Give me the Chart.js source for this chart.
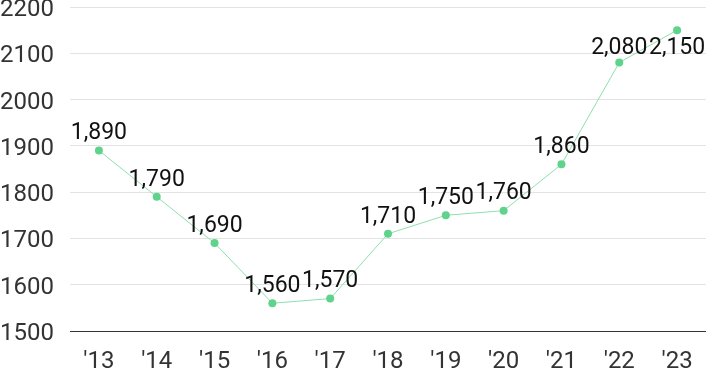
<!DOCTYPE html>
<html>
<head>
<meta charset="utf-8">
<script src="https://cdn.jsdelivr.net/npm/chart.js@4"></script>
<style>
  html, body { margin: 0; padding: 0; background: #fff; }
  #wrap { width: 710px; height: 371px; position: relative; }
</style>
</head>
<body>
<div id="wrap"><canvas id="chart"></canvas></div>
<script>
const years = ["'13", "'14", "'15", "'16", "'17", "'18", "'19", "'20", "'21", "'22", "'23"];
const values = [1890, 1790, 1690, 1560, 1570, 1710, 1750, 1760, 1860, 2080, 2150];
const yTicks = [1500, 1600, 1700, 1800, 1900, 2000, 2100, 2200];

// point value labels above each marker
const valueLabels = {
    id: 'valueLabels',
    afterDatasetsDraw(chart) {
        const ctx = chart.ctx;
        const meta = chart.getDatasetMeta(0);
        ctx.save();
        ctx.font = '23px Roboto';
        ctx.fillStyle = '#111';
        ctx.textAlign = 'center';
        ctx.textBaseline = 'middle';
        meta.data.forEach((pt, i) => {
            let y = pt.y - 17;
            if (y < chart.chartArea.top + 41) y = chart.chartArea.top + 41;
            ctx.fillText(values[i].toLocaleString('en-US'), pt.x, y);
        });
        ctx.restore();
    }
};

new Chart(document.getElementById('chart'), {
    type: 'line',
    data: {
        labels: years,
        datasets: [{
            data: values,
            borderColor: '#8fdfad',
            borderWidth: 1,
            pointBackgroundColor: '#5fd38b',
            pointBorderWidth: 0,
            pointRadius: 4,
            tension: 0
        }]
    },
    options: {
        responsive: true,
        maintainAspectRatio: false,
        animation: false,
        layout: { padding: { top: 7, right: 0, left: 0, bottom: 0 } },
        plugins: { legend: { display: false }, tooltip: { enabled: false } },
        scales: {
            x: {
                offset: true,
                grid: { display: false, drawTicks: false },
                border: { display: false },
                ticks: { color: '#333', font: { family: 'Roboto', size: 24 }, padding: 17 },
                afterFit(s) { s.height = 40; s.paddingLeft = 0; s.paddingRight = 0; }
            },
            y: {
                min: 1500,
                max: 2200,
                afterBuildTicks(s) { s.ticks = yTicks.map(v => ({ value: v })); },
                grid: {
                    drawTicks: false,
                    color: ctx => ctx.tick.value === 1500 ? '#333' : '#e3e3e3',
                    lineWidth: 1
                },
                border: { display: false },
                ticks: {
                    color: '#333',
                    font: { family: 'Roboto', size: 24 },
                    crossAlign: 'far',
                    padding: 14,
                    labelOffset: 3,
                    callback: v => String(v)
                },
                afterFit(s) { s.width = 70; s.paddingTop = 0; s.paddingBottom = 0; }
            }
        }
    },
    plugins: [valueLabels]
});
</script>
</body>
</html>
